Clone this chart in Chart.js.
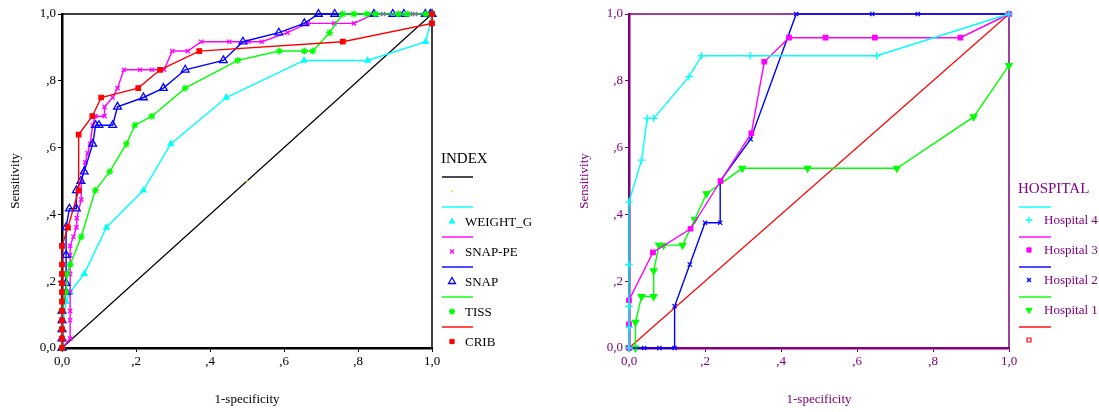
<!DOCTYPE html>
<html>
<head>
<meta charset="utf-8">
<script src="https://cdn.jsdelivr.net/npm/chart.js@4.4.1/dist/chart.umd.min.js"></script>
<style>
  html, body { margin: 0; padding: 0; background: #fff; width: 1099px; height: 412px; overflow: hidden; }
  body { position: relative; font-family: "Liberation Serif", "Times New Roman", serif; }
  canvas { position: absolute; top: 0; }
  #cvLeft { left: 0; }
  #cvRight { left: 560px; }
  .lg { position: absolute; font-size: 13px; line-height: 16px; white-space: nowrap; }
  .lg.title { font-size: 15px; line-height: 18px; }
</style>
</head>
<body>
<canvas id="cvLeft" width="550" height="412"></canvas>
<canvas id="cvRight" width="539" height="412"></canvas>
<div id="legendLeft"></div>
<div id="legendRight"></div>
<script>
// ---- ROC curves by scoring index ----
const tickLabels = ['0,0', ',2', ',4', ',6', ',8', '1,0'];

const weightX = [0, 0, 0.011, 0.022, 0.06, 0.12, 0.22, 0.294, 0.444, 0.654, 0.826, 0.983, 0.995, 1];
const weightY = [0, 0.056, 0.139, 0.167, 0.222, 0.361, 0.472, 0.611, 0.75, 0.861, 0.861, 0.917, 0.972, 1];

const snapPeX = [0, 0.022, 0.022, 0.022, 0.022, 0.022, 0.022, 0.022, 0.022, 0.031, 0.039, 0.04, 0.052, 0.052, 0.063, 0.069, 0.076, 0.083, 0.09, 0.115, 0.115, 0.137, 0.15, 0.167, 0.211, 0.243, 0.276, 0.298, 0.34, 0.376, 0.452, 0.504, 0.54, 0.609, 0.664, 0.736, 0.789, 0.844, 0.868, 0.912, 0.94, 0.954, 0.995, 1];
const snapPeY = [0, 0.028, 0.083, 0.111, 0.167, 0.222, 0.25, 0.278, 0.306, 0.333, 0.361, 0.389, 0.444, 0.5, 0.556, 0.583, 0.611, 0.667, 0.694, 0.694, 0.722, 0.75, 0.778, 0.833, 0.833, 0.833, 0.833, 0.889, 0.889, 0.917, 0.917, 0.917, 0.917, 0.944, 0.972, 0.972, 0.972, 1, 1, 1, 1, 1, 1, 1];

const snapX = [0, 0, 0, 0, 0, 0.011, 0.011, 0.011, 0.011, 0.02, 0.039, 0.039, 0.051, 0.06, 0.083, 0.091, 0.1, 0.137, 0.15, 0.22, 0.274, 0.333, 0.436, 0.489, 0.586, 0.655, 0.693, 0.737, 0.843, 0.894, 0.924, 0.982, 0.995, 1];
const snapY = [0, 0.028, 0.056, 0.083, 0.111, 0.167, 0.194, 0.278, 0.361, 0.417, 0.417, 0.472, 0.5, 0.528, 0.611, 0.667, 0.667, 0.667, 0.722, 0.75, 0.778, 0.833, 0.861, 0.917, 0.944, 0.972, 1, 1, 1, 1, 1, 1, 1, 1];

const tissX = [0, 0, 0, 0.011, 0.014, 0.022, 0.052, 0.09, 0.129, 0.174, 0.197, 0.243, 0.333, 0.475, 0.587, 0.655, 0.678, 0.723, 0.758, 0.789, 0.824, 0.848, 0.909, 0.933, 0.984, 1];
const tissY = [0, 0.056, 0.111, 0.167, 0.222, 0.25, 0.333, 0.472, 0.528, 0.611, 0.667, 0.694, 0.778, 0.861, 0.889, 0.889, 0.889, 0.944, 1, 1, 1, 1, 1, 1, 1, 1];

const cribX = [0, 0, 0, 0, 0, 0, 0, 0, 0, 0, 0, 0.016, 0.045, 0.045, 0.082, 0.106, 0.206, 0.265, 0.371, 0.759, 1, 1];
const cribY = [0, 0.028, 0.056, 0.083, 0.111, 0.139, 0.167, 0.194, 0.222, 0.25, 0.306, 0.361, 0.472, 0.639, 0.694, 0.75, 0.778, 0.833, 0.889, 0.917, 0.972, 1];

const refX = [0, 0.5, 1];
const refY = [0, 0.5, 1];

// ---- ROC curves by hospital ----
const hosp4X = [0, 0, 0, 0, 0, 0.033, 0.048, 0.065, 0.158, 0.191, 0.319, 0.652, 1];
const hosp4Y = [0, 0.0625, 0.125, 0.25, 0.4375, 0.5625, 0.6875, 0.6875, 0.8125, 0.875, 0.875, 0.875, 1];

const hosp3X = [0, 0, 0, 0.063, 0.162, 0.241, 0.322, 0.356, 0.421, 0.517, 0.647, 0.872, 1];
const hosp3Y = [0, 0.071, 0.143, 0.286, 0.357, 0.5, 0.643, 0.857, 0.929, 0.929, 0.929, 0.929, 1];

const hosp2X = [0, 0.04, 0.08, 0.12, 0.12, 0.16, 0.2, 0.24, 0.24, 0.32, 0.44, 0.64, 0.76, 1];
const hosp2Y = [0, 0, 0, 0, 0.125, 0.25, 0.375, 0.375, 0.5, 0.625, 1, 1, 1, 1];

const hosp1X = [0, 0.017, 0.017, 0.033, 0.065, 0.065, 0.079, 0.091, 0.141, 0.173, 0.204, 0.298, 0.47, 0.705, 0.907, 1];
const hosp1Y = [0, 0, 0.077, 0.154, 0.154, 0.231, 0.308, 0.308, 0.308, 0.385, 0.462, 0.538, 0.538, 0.538, 0.692, 0.846];

const diagX = [0, 1];
const diagY = [0, 1];

const FONT = '"Liberation Serif", "Times New Roman", serif';
const PURPLE = '#800080';

const pts = (xs, ys) => xs.map((x, i) => ({ x, y: ys[i] }));

function series(label, xs, ys, color, marker) {
  return Object.assign({
    label, data: pts(xs, ys),
    borderColor: color, borderWidth: 1.4, tension: 0, clip: false,
    pointBorderColor: color, pointBackgroundColor: color,
    pointBorderWidth: 1.2, pointRadius: 3, pointStyle: 'circle'
  }, marker);
}

function axis(color, title, horizontal, size, titlePad) {
  return {
    type: 'linear', min: 0, max: 1,
    ticks: {
      stepSize: 0.2, color, autoSkip: false, maxRotation: 0, padding: 2,
      font: { family: FONT, size: 13 },
      callback: (v, i) => tickLabels[i]
    },
    grid: { drawOnChartArea: false, drawTicks: true, tickLength: 4, color, lineWidth: 1 },
    border: { display: true, color, width: 2.5 },
    title: {
      display: true, text: title, color,
      font: { family: FONT, size: 13, lineHeight: 1.2 },
      padding: titlePad
    },
    afterFit: horizontal ? s => { s.height = size; } : s => { s.width = size; }
  };
}

// thin top/right edges of the plot box
const framePlugin = {
  id: 'frame',
  beforeDatasetsDraw(chart, args, o) {
    const { ctx, chartArea: a } = chart;
    ctx.save();
    ctx.strokeStyle = o.color;
    ctx.lineWidth = 1.5;
    ctx.beginPath();
    ctx.moveTo(a.left, a.top);
    ctx.lineTo(a.right, a.top);
    ctx.lineTo(a.right, a.bottom);
    ctx.stroke();
    ctx.restore();
  }
};

// legend keys: a line sample followed by the marker sample, per series
const keysPlugin = {
  id: 'keys',
  afterDraw(chart, args, o) {
    const ctx = chart.ctx;
    o.items.forEach((it, i) => {
      const ly = o.y0 + i * o.step;
      ctx.save();
      ctx.globalAlpha = 0.7;
      ctx.strokeStyle = it.line;
      ctx.lineWidth = 2;
      ctx.beginPath();
      ctx.moveTo(o.x0, ly);
      ctx.lineTo(o.x1, ly);
      ctx.stroke();
      ctx.restore();
      ctx.save();
      ctx.fillStyle = it.fill;
      ctx.strokeStyle = it.stroke;
      ctx.lineWidth = it.bw;
      Chart.helpers.drawPoint(ctx, { pointStyle: it.style, radius: it.r, rotation: it.rot || 0, borderWidth: it.bw }, o.mx, ly + o.dm);
      ctx.restore();
    });
  }
};

function baseOptions(color, yWidth, yPad, padding, keys) {
  return {
    responsive: false, animation: false,
    layout: { padding },
    scales: {
      x: axis(color, '1-specificity', true, 64, { top: 0, bottom: 5 }),
      y: axis(color, 'Sensitivity', false, yWidth, { top: yPad, bottom: 0 })
    },
    plugins: {
      legend: { display: false }, tooltip: { enabled: false },
      frame: { color },
      keys
    }
  };
}

const leftKeys = {
  x0: 442, x1: 473, mx: 452, y0: 177, step: 30, dm: 14.5,
  items: [
    { line: '#000', fill: '#e6e600', stroke: '#e6e600', style: 'circle', r: 1, bw: 0 },
    { line: '#00ffff', fill: '#00ffff', stroke: '#00ffff', style: 'triangle', r: 3.2, bw: 1 },
    { line: '#ff00ff', fill: '#ff00ff', stroke: '#ff00ff', style: 'crossRot', r: 2.8, bw: 1.3 },
    { line: '#0000ff', fill: '#fff', stroke: '#0000ff', style: 'triangle', r: 4, bw: 1.3 },
    { line: '#00ff00', fill: '#00ff00', stroke: '#00ff00', style: 'star', r: 3.2, bw: 1.3 },
    { line: '#ff0000', fill: '#ff0000', stroke: '#ff0000', style: 'rect', r: 3, bw: 1 }
  ]
};

new Chart(document.getElementById('cvLeft'), {
  type: 'line',
  data: {
    datasets: [
      series('CRIB', cribX, cribY, '#ff0000', { pointStyle: 'rect', pointRadius: 3.2 }),
      series('TISS', tissX, tissY, '#00ff00', { pointStyle: 'star', pointRadius: 3.5, pointBorderWidth: 1.3 }),
      series('SNAP', snapX, snapY, '#0000ff', { pointStyle: 'triangle', pointRadius: 4.5, pointBackgroundColor: 'rgba(255,255,255,0)', pointBorderWidth: 1.3 }),
      series('SNAP-PE', snapPeX, snapPeY, '#ff00ff', { pointStyle: 'crossRot', pointRadius: 3, pointBorderWidth: 1.3 }),
      series('WEIGHT_G', weightX, weightY, '#00ffff', { pointStyle: 'triangle', pointRadius: 3.2 }),
      series('', refX, refY, '#000000', { borderWidth: 1.2, pointRadius: [0, 1, 0], pointBorderWidth: 0, pointBackgroundColor: '#e6e600' })
    ]
  },
  options: baseOptions('#000', 62, 8, { top: 14, right: 118, bottom: 0, left: 0 }, leftKeys),
  plugins: [framePlugin, keysPlugin]
});

const rightKeys = {
  x0: 459, x1: 491, mx: 469, y0: 207, step: 30, dm: 13,
  items: [
    { line: '#00ffff', fill: '#00ffff', stroke: '#00ffff', style: 'cross', r: 3.5, bw: 1.3 },
    { line: '#ff00ff', fill: '#ff00ff', stroke: '#ff00ff', style: 'rect', r: 3, bw: 1 },
    { line: '#0000ff', fill: '#0000ff', stroke: '#0000ff', style: 'crossRot', r: 2.8, bw: 1.3 },
    { line: '#00ff00', fill: '#00ff00', stroke: '#00ff00', style: 'triangle', r: 3.5, rot: 180, bw: 1 },
    { line: '#ff0000', fill: '#fff', stroke: '#ff0000', style: 'rect', r: 2.8, bw: 1.2 }
  ]
};

new Chart(document.getElementById('cvRight'), {
  type: 'line',
  data: {
    datasets: [
      series('Hospital 4', hosp4X, hosp4Y, '#00ffff', { pointStyle: 'cross', pointRadius: 3.8, pointBorderWidth: 1.3 }),
      series('Hospital 3', hosp3X, hosp3Y, '#ff00ff', { pointStyle: 'rect', pointRadius: 3.2 }),
      series('Hospital 2', hosp2X, hosp2Y, '#0000ff', { pointStyle: 'crossRot', pointRadius: 3, pointBorderWidth: 1.3 }),
      series('Hospital 1', hosp1X, hosp1Y, '#00ff00', { pointStyle: 'triangle', pointRotation: 180, pointRadius: 3.8 }),
      series('', diagX, diagY, '#ff0000', { borderWidth: 1.2, pointRadius: 0 })
    ]
  },
  options: baseOptions(PURPLE, 69, 17, { top: 14, right: 90, bottom: 0, left: 0 }, rightKeys),
  plugins: [framePlugin, keysPlugin]
});

// legend captions
function captions(host, color, title, tx, ty, x, y0, step, names) {
  const el = document.getElementById(host);
  const t = document.createElement('div');
  t.className = 'lg title';
  t.textContent = title;
  t.style.cssText = `left:${tx}px;top:${ty - 9}px;color:${color}`;
  el.appendChild(t);
  names.forEach((n, i) => {
    if (!n) return;
    const d = document.createElement('div');
    d.className = 'lg';
    d.textContent = n;
    d.style.cssText = `left:${x}px;top:${y0 + i * step - 8}px;color:${color}`;
    el.appendChild(d);
  });
}
captions('legendLeft', '#000', 'INDEX', 441, 158, 465, 191.5, 30, ['', 'WEIGHT_G', 'SNAP-PE', 'SNAP', 'TISS', 'CRIB']);
captions('legendRight', PURPLE, 'HOSPITAL', 1018, 188, 1044, 220, 30, ['Hospital 4', 'Hospital 3', 'Hospital 2', 'Hospital 1']);
</script>
</body>
</html>
